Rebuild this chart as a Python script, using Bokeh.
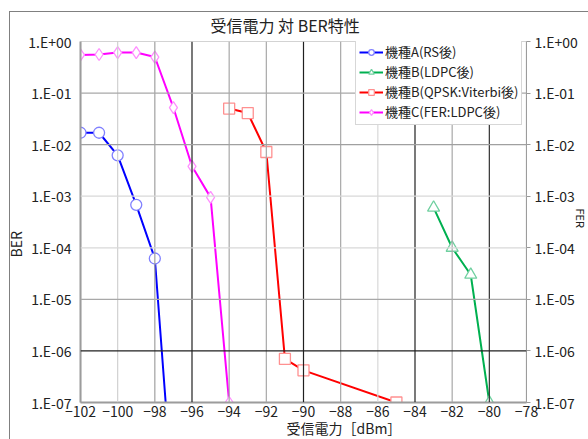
import numpy as np
from bokeh.plotting import figure
from bokeh.models import (LogAxis, FixedTicker, Span, Legend, LegendItem, Title,
                          CustomJSTickFormatter, InlineStyleSheet)
from bokeh.embed import file_html
from bokeh.resources import INLINE

# ---------------- data ----------------
title_text = "受信電力 対 BER特性"
x_label = "受信電力［dBm］"
y_label = "BER"
y2_label = "FER"

x_ticks = [-102, -100, -98, -96, -94, -92, -90, -88, -86, -84, -82, -80, -78]
y_tick_exps = [0, -1, -2, -3, -4, -5, -6, -7]
y_tick_labels = ["1.E+00", "1.E-01", "1.E-02", "1.E-03", "1.E-04", "1.E-05", "1.E-06", "1.E-07"]

series_names = ["機種A(RS後)", "機種B(LDPC後)", "機種B(QPSK:Viterbi後)", "機種C(FER:LDPC後)"]

a_x = [-102, -101, -100, -99, -98, -97]
a_y = [1.7e-2, 1.7e-2, 6.2e-3, 6.8e-4, 6.2e-5, 1.0e-9]

b_ldpc_x = [-83, -82, -81, -80]
b_ldpc_y = [6.0e-4, 1.0e-4, 3.0e-5, 1.0e-7]

b_vit_x = [-94, -93, -92, -91, -90, -85]
b_vit_y = [5.0e-2, 4.1e-2, 7.2e-3, 7.0e-7, 4.2e-7, 1.0e-7]

c_x = [-102, -101, -100, -99, -98, -97, -96, -95, -94]
c_y = [0.55, 0.56, 0.61, 0.61, 0.50, 5.2e-2, 3.8e-3, 9.5e-4, 1.0e-7]

# ---------------- styles ----------------
FONT = "Noto Sans CJK JP"
TXT = "#222222"
line_colors = ["#0000ff", "#00b050", "#ff0000", "#ff00ff"]
marker_colors = ["#8080ff", "#70d0a0", "#ff9090", "#ff90ff"]
markers = ["circle", "triangle", "square", "diamond"]
marker_sizes = [11, 12, 11, 12]
xgrid_colors = ["#a0a0a0", "#d0d0d0", "#a0a0a0", "#202020", "#a8a8a8", "#a8a8a8", "#202020",
                "#a8a8a8", "#d8d8d8", "#202020", "#a8a8a8", "#303030", "#a0a0a0"]
ygrid_colors = ["#a8a8a8", "#a8a8a8", "#a0a0a0", "#d8d8d8", "#d8d8d8", "#a8a8a8", "#202020", "#a0a0a0"]

p = figure(width=588, height=439, output_backend="svg", toolbar_location=None,
           y_axis_type="log", x_range=(-102, -78), y_range=(1e-7, 1.0),
           min_border_left=80, min_border_right=62,
           min_border_top=41, min_border_bottom=37)
p.background_fill_color = "white"
p.border_fill_color = "white"
p.outline_line_color = None
p.xgrid.grid_line_color = None
p.ygrid.grid_line_color = None

# title
p.title.text = title_text
p.title.align = "left"
p.title.offset = 130
p.title.text_font = FONT
p.title.text_font_size = "16px"
p.title.text_font_style = "normal"
p.title.text_color = TXT
p.title.standoff = 10

fmt = CustomJSTickFormatter(args=dict(exps=y_tick_exps, labels=y_tick_labels), code="""
const e = Math.round(Math.log10(tick));
const i = exps.indexOf(e);
return i >= 0 ? labels[i] : "";
""")
y_ticks = [10.0 ** e for e in y_tick_exps]

# grid lines
for xv, c in zip(x_ticks, xgrid_colors):
    p.add_layout(Span(location=xv, dimension="height", line_color=c, line_width=1.2))
for yv, c in zip(y_ticks, ygrid_colors):
    p.add_layout(Span(location=yv, dimension="width", line_color=c, line_width=1.2))

# axes
xa = p.xaxis[0]
xa.ticker = FixedTicker(ticks=x_ticks)
xa.major_label_text_font = FONT
xa.major_label_text_font_size = "14px"
xa.major_label_text_color = TXT
xa.major_tick_out = 0
xa.major_tick_in = 0
xa.minor_tick_out = 0
xa.minor_tick_in = 0
xa.axis_line_color = "#999999"
xa.axis_line_width = 2
xa.major_label_standoff = 3

ya = p.yaxis[0]
ya.ticker = FixedTicker(ticks=y_ticks)
ya.formatter = fmt
ya.major_label_text_font = FONT
ya.major_label_text_font_size = "14px"
ya.major_label_text_color = TXT
ya.major_tick_out = 0
ya.major_tick_in = 0
ya.minor_tick_out = 0
ya.minor_tick_in = 0
ya.axis_line_color = "#999999"
ya.axis_line_width = 2
ya.major_label_standoff = 9

ra = LogAxis(ticker=FixedTicker(ticks=y_ticks), formatter=fmt)
ra.major_label_text_font = FONT
ra.major_label_text_font_size = "14px"
ra.major_label_text_color = TXT
ra.major_tick_out = 4
ra.major_tick_in = 0
ra.minor_tick_out = 0
ra.minor_tick_in = 0
ra.axis_line_color = "#999999"
ra.major_tick_line_color = "#999999"
ra.major_label_standoff = 4
p.add_layout(ra, "right")

# axis titles
p.add_layout(Title(text=x_label, align="left", offset=206, text_font=FONT,
                   text_font_size="14px", text_font_style="normal", text_color=TXT,
                   standoff=-7), "below")
p.add_layout(Title(text=y_label, align="left", offset=145, text_font=FONT,
                   text_font_size="14px", text_font_style="normal", text_color=TXT,
                   standoff=0), "left")
p.add_layout(Title(text=y2_label, align="left", offset=167, text_font=FONT,
                   text_font_size="11px", text_font_style="normal", text_color=TXT,
                   standoff=-15), "right")

# series
xs_list = [a_x, b_ldpc_x, b_vit_x, c_x]
ys_list = [a_y, b_ldpc_y, b_vit_y, c_y]
items = []
for name, xs, ys, lc, mc, mk, ms in zip(series_names, xs_list, ys_list, line_colors,
                                        marker_colors, markers, marker_sizes):
    lr = p.line(xs, ys, line_color=lc, line_width=2)
    sr = p.scatter(xs, ys, marker=mk, size=ms, fill_color="white", line_color=mc, line_width=1.3)
    items.append(LegendItem(label=name, renderers=[lr, sr]))

legend = Legend(items=items, location=(275, 277))
legend.label_text_font = FONT
legend.label_text_font_size = "13px"
legend.label_text_color = TXT
legend.glyph_width = 24
legend.glyph_height = 14
legend.label_height = 14
legend.label_standoff = 2
legend.spacing = 1
legend.padding = 3
legend.margin = 0
legend.border_line_color = "#b0b0b0"
legend.background_fill_color = "white"
legend.background_fill_alpha = 1.0
p.add_layout(legend, "center")

# outer chart border (chart area frame, left/top edges visible)
p.stylesheets = [InlineStyleSheet(css="""
:host::after { content: ""; position: absolute; left: 9px; top: 11px;
  width: calc(100% - 9px); height: calc(100% - 11px); box-sizing: border-box;
  border-left: 1.5px solid #808080; border-top: 1.5px solid #808080;
  pointer-events: none; }
""")]

open("out.html", "w").write(file_html(p, INLINE))
